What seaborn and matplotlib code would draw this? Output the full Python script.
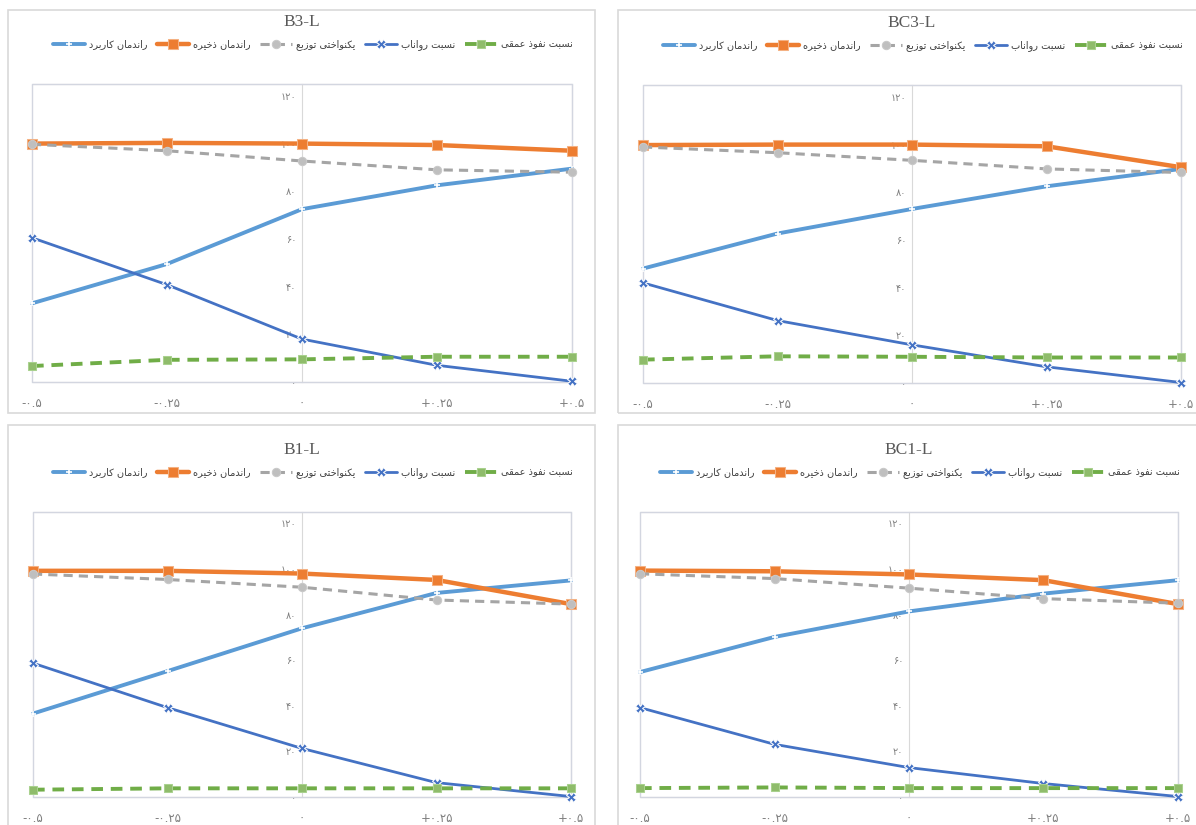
import numpy as np
import pandas as pd
import matplotlib
matplotlib.use("Agg")
import matplotlib.pyplot as plt
from matplotlib.patches import Rectangle
import seaborn as sns

# x positions (shared by all four charts)
x_vals = [-0.5, -0.25, 0, 0.25, 0.5]
x_tick_text = ["-0.5", "-0.25", "0", "+0.25", "+0.5"]
y_ticks = [0, 20, 40, 60, 80, 100, 120]

# B3-L
b3l_application = [33, 49.5, 72.5, 82.5, 89.5]
b3l_storage = [100, 100.3, 100, 99.4, 97]
b3l_uniformity = [99.7, 97, 92.7, 89, 88]
b3l_runoff = [60.5, 40.8, 18, 7, 0.3]
b3l_deep = [6.7, 9.3, 9.5, 10.6, 10.6]

# BC3-L
bc3l_application = [48, 62.7, 73, 82.5, 89.8]
bc3l_storage = [99.8, 100, 100, 99.3, 90.5]
bc3l_uniformity = [99, 96.6, 93.4, 89.8, 88.3]
bc3l_runoff = [42, 26.2, 16, 6.8, 0.2]
bc3l_deep = [9.8, 11.2, 11, 10.7, 10.7]

# B1-L
b1l_application = [36.6, 55.2, 74, 89.5, 95]
b1l_storage = [99.2, 99.2, 98, 95.2, 84.6]
b1l_uniformity = [97.8, 95.4, 92, 86.4, 84.6]
b1l_runoff = [58.7, 39.2, 21.3, 6.3, 0.2]
b1l_deep = [3.2, 3.8, 3.8, 3.8, 3.8]

# BC1-L
bc1l_application = [54.8, 70.2, 81.4, 89.2, 95.1]
bc1l_storage = [99.3, 99, 97.6, 95.1, 84.6]
bc1l_uniformity = [97.9, 95.8, 91.6, 87, 85]
bc1l_runoff = [39.2, 23.1, 12.9, 5.9, 0.2]
bc1l_deep = [3.9, 4.2, 3.9, 3.9, 3.9]

series_names = ["راندمان کاربرد", "راندمان ذخیره", "یکنواختی توزیع", "نسبت رواناب", "نسبت نفوذ عمقی"]

# presentation forms: isolated, final, (initial, medial)
FORMS = {
    "ا": "\ufe8d\ufe8e", "د": "\ufea9\ufeaa", "ذ": "\ufeab\ufeac",
    "ر": "\ufead\ufeae", "ز": "\ufeaf\ufeb0", "و": "\ufeed\ufeee",
    "ب": "\ufe8f\ufe90\ufe91\ufe92", "ت": "\ufe95\ufe96\ufe97\ufe98",
    "خ": "\ufea5\ufea6\ufea7\ufea8", "س": "\ufeb1\ufeb2\ufeb3\ufeb4",
    "ع": "\ufec9\ufeca\ufecb\ufecc", "ف": "\ufed1\ufed2\ufed3\ufed4",
    "ق": "\ufed5\ufed6\ufed7\ufed8", "م": "\ufee1\ufee2\ufee3\ufee4",
    "ن": "\ufee5\ufee6\ufee7\ufee8", "ه": "\ufee9\ufeea\ufeeb\ufeec",
    "ک": "\ufb8e\ufb8f\ufb90\ufb91", "ی": "\ufbfc\ufbfd\ufbfe\ufbff",
}


def shape_fa(text):
    out = []
    for i, ch in enumerate(text):
        f = FORMS.get(ch)
        if f is None:
            out.append(ch)
            continue
        prev = text[i - 1] if i > 0 else ""
        nxt = text[i + 1] if i + 1 < len(text) else ""
        join_prev = prev in FORMS and len(FORMS[prev]) == 4
        join_next = len(f) == 4 and nxt in FORMS
        if join_prev and join_next:
            out.append(f[3])
        elif join_prev:
            out.append(f[1])
        elif join_next:
            out.append(f[2])
        else:
            out.append(f[0])
    return "".join(out[::-1])


def fa_digits(s):
    return s.translate(str.maketrans("0123456789", "۰۱۲۳۴۵۶۷۸۹"))


sns.set_style("white")
plt.rcParams["font.family"] = ["DejaVu Sans"]

colors = ["#5B9BD5", "#ED7D31", "#A5A5A5", "#4472C4", "#70AD47"]
styles = [
    dict(lw=2.8, marker="+", ms=5, mew=1.2, ls="-"),
    dict(lw=3.2, marker="s", ms=6.5, mec="#F4B183", ls="-"),
    dict(lw=2.2, marker="o", ms=6, mfc="#BFBFBF", mec="#C9C9C9", ls=(0, (3, 2))),
    dict(lw=2.0, marker="X", ms=7, ls="-"),
    dict(lw=2.8, marker="s", ms=6, mfc="#8FBC6B", mec="#A9D18E", ls=(0, (3, 2))),
]

panels = [
    ("B3-L", [b3l_application, b3l_storage, b3l_uniformity, b3l_runoff, b3l_deep]),
    ("BC3-L", [bc3l_application, bc3l_storage, bc3l_uniformity, bc3l_runoff, bc3l_deep]),
    ("B1-L", [b1l_application, b1l_storage, b1l_uniformity, b1l_runoff, b1l_deep]),
    ("BC1-L", [bc1l_application, bc1l_storage, bc1l_uniformity, bc1l_runoff, bc1l_deep]),
]
# plot areas in pixels (left, top, right, bottom) and outer chart boxes
plot_boxes = [(32, 84, 572, 382), (643, 85, 1181, 383), (33, 512, 571, 797), (640, 512, 1178, 797)]
chart_boxes = [(8, 10, 595, 413), (618, 10, 1205, 413), (8, 425, 595, 835), (618, 425, 1205, 835)]

W, H = 1196, 825
fig = plt.figure(figsize=(W / 100, H / 100), dpi=100)

for (cl, ct, cr, cb) in chart_boxes:
    fig.patches.append(Rectangle((cl / W, 1 - cb / H), (cr - cl) / W, (cb - ct) / H,
                                 transform=fig.transFigure, fill=False,
                                 ec="#D9D9D9", lw=1.2))

for (name, data), (l, t, r, b) in zip(panels, plot_boxes):
    ax = fig.add_axes([l / W, 1 - b / H, (r - l) / W, (b - t) / H])
    h_px = b - t
    for vals, c, st, lab in zip(data, colors, styles, series_names):
        sns.lineplot(x=x_vals, y=vals, ax=ax, color=c, label=shape_fa(lab),
                     clip_on=False, zorder=3, **st)
    ax.set_xlim(-0.5, 0.5)
    ax.set_ylim(0, 125)
    ax.set_xticks(x_vals)
    ax.set_xticklabels([fa_digits(s) for s in x_tick_text])
    ax.set_yticks(y_ticks)
    ax.set_yticklabels([fa_digits(str(v)) for v in y_ticks])
    ax.spines["left"].set_position(("data", 0))
    ax.spines["left"].set_color("#D9D9D9")
    for s in ["top", "right", "bottom"]:
        ax.spines[s].set_color("#D3D6E0")
    ax.add_patch(Rectangle((0, 0), 1, 1, transform=ax.transAxes, fill=False,
                           ec="#D3D6E0", lw=1.0, clip_on=False))
    ax.tick_params(axis="y", length=0, pad=4, labelsize=7, labelcolor="#7F7F7F")
    ax.tick_params(axis="x", length=0, pad=11, labelsize=8.5, labelcolor="#7F7F7F")
    ax.set_xlabel("")
    ax.set_ylabel("")

    handles, labels = ax.get_legend_handles_labels()
    ax.legend(handles, labels, loc="center", bbox_to_anchor=(0.52, 1 + 39 / h_px),
              ncol=5, frameon=False, fontsize=7, handlelength=3.3,
              columnspacing=1.0, handletextpad=0.4, labelcolor="#404040")
    ax.text(0.5, 1 + 62 / h_px, name, transform=ax.transAxes, ha="center",
            va="center", fontsize=12.5, color="#595959", family="Liberation Serif")

fig.savefig("out.png", dpi=100)
